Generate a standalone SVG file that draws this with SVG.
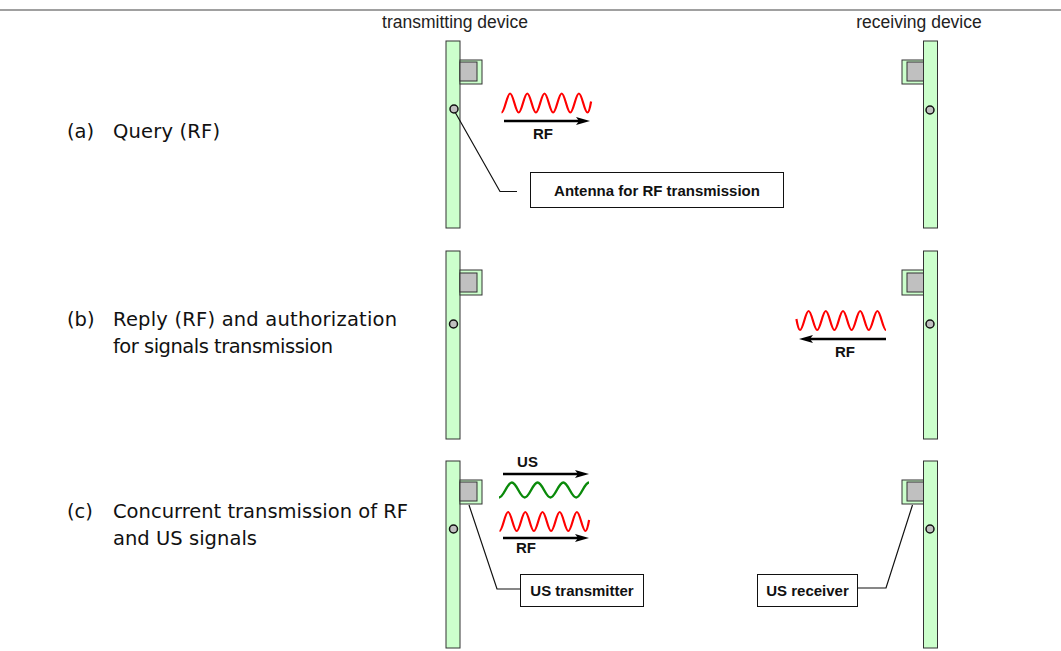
<svg xmlns="http://www.w3.org/2000/svg" xmlns:xlink="http://www.w3.org/1999/xlink" width="1061" height="651" viewBox="0 0 1061 651">
<style>
.bar{fill:#ccffcc;stroke:#333;stroke-width:1}
.comp{fill:#ccffcc;stroke:#333;stroke-width:1}
.chip{fill:#c0c0c0;stroke:#333;stroke-width:1}
.ant{fill:#c0c0c0;stroke:#111;stroke-width:1.5}
.hdr{font-family:"Liberation Sans",Arial,sans-serif;font-size:17.5px;fill:#222}
.step{font-family:"DejaVu Sans","Noto Sans",sans-serif;font-size:19.5px;fill:#111}
.lbl{font-family:"Liberation Sans",Arial,sans-serif;font-size:15px;font-weight:bold;fill:#111}
.box{fill:#fff;stroke:#111;stroke-width:1}
.lead{fill:none;stroke:#111;stroke-width:1.2}
.arrow{stroke:#000;stroke-width:2.6;marker-end:url(#ah)}
.rf{fill:none;stroke:#ff0000;stroke-width:2.2}
.us{fill:none;stroke:#0a8a0a;stroke-width:2.4}
</style>
<defs>
<marker id="ah" markerUnits="userSpaceOnUse" markerWidth="16" markerHeight="10" refX="3" refY="4" orient="auto">
<path d="M0,0 L14,4 L0,8 L3,4 z" fill="#000"/>
</marker>
<path id="rfwave" d="M0,0 c3.13,0 5.47,-19 8.6,-19 s5.47,19 8.6,19 s5.47,-19 8.6,-19 s5.47,19 8.6,19 s5.47,-19 8.6,-19 s5.47,19 8.6,19 s5.47,-19 8.6,-19 s5.47,19 8.6,19 s5.47,-19 8.6,-19 s5.47,19 8.6,19 c1.6,0 2.9,-7 3.6,-11"/>
<path id="uswave" d="M0,0 c4.68,0 8.18,-15 12.86,-15 s8.18,15 12.86,15 s8.18,-15 12.86,-15 s8.18,15 12.86,15 s8.18,-15 12.86,-15 s8.18,15 12.86,15 s8.18,-15 12.86,-15"/>
</defs>
<rect width="1061" height="651" fill="#fff"/>
<line x1="0" y1="10" x2="1061" y2="10" stroke="#808080" stroke-width="1.6"/>
<text class="hdr" x="455" y="28" text-anchor="middle">transmitting device</text>
<text class="hdr" x="919" y="28" text-anchor="middle">receiving device</text>

<g id="step-a">
<text class="step" x="67" y="138">(a)</text>
<text class="step" x="113" y="138" textLength="107" lengthAdjust="spacing">Query (RF)</text>
</g>
<g id="step-b">
<text class="step" x="67" y="326">(b)</text>
<text class="step" x="113" y="326" textLength="284" lengthAdjust="spacing">Reply (RF) and authorization</text>
<text class="step" x="113" y="353" textLength="220" lengthAdjust="spacing">for signals transmission</text>
</g>
<g id="step-c">
<text class="step" x="67" y="518">(c)</text>
<text class="step" x="113" y="518" textLength="295" lengthAdjust="spacing">Concurrent transmission of RF</text>
<text class="step" x="113" y="545" textLength="144" lengthAdjust="spacing">and US signals</text>
</g>

<g id="tx-a">
<rect class="bar" x="446" y="41" width="14" height="187"/>
<rect class="comp" x="460" y="60" width="22" height="24"/>
<rect class="chip" x="460" y="62" width="17" height="19"/>
<circle class="ant" cx="454" cy="109" r="4"/>
</g>
<g id="rx-a">
<rect class="bar" x="923.5" y="41" width="14" height="187"/>
<rect class="comp" x="902" y="60" width="21.5" height="24"/>
<rect class="chip" x="907" y="62" width="16.5" height="19"/>
<circle class="ant" cx="930" cy="110" r="4"/>
</g>
<g id="tx-b">
<rect class="bar" x="446" y="251" width="14" height="188"/>
<rect class="comp" x="460" y="270" width="22" height="25"/>
<rect class="chip" x="460" y="273" width="17" height="19"/>
<circle class="ant" cx="453.5" cy="324" r="4"/>
</g>
<g id="rx-b">
<rect class="bar" x="923.5" y="251" width="14" height="188"/>
<rect class="comp" x="902" y="270" width="21.5" height="25"/>
<rect class="chip" x="907" y="273" width="16.5" height="19"/>
<circle class="ant" cx="930" cy="324" r="4"/>
</g>
<g id="tx-c">
<rect class="bar" x="446" y="461" width="14" height="187"/>
<rect class="comp" x="460" y="480" width="22" height="24"/>
<rect class="chip" x="460" y="482" width="17" height="19"/>
<circle class="ant" cx="453.5" cy="529" r="4"/>
</g>
<g id="rx-c">
<rect class="bar" x="923.5" y="461" width="14" height="187"/>
<rect class="comp" x="902" y="480" width="21.5" height="24"/>
<rect class="chip" x="907" y="482" width="16.5" height="19"/>
<circle class="ant" cx="930" cy="529" r="4"/>
</g>

<g id="label-antenna">
<rect class="box" x="530.5" y="172.5" width="253" height="35"/>
<text class="lbl" x="657" y="195.5" text-anchor="middle">Antenna for RF transmission</text>
</g>
<g id="label-us-transmitter">
<rect class="box" x="520.5" y="574.5" width="123" height="32"/>
<text class="lbl" x="582" y="596" text-anchor="middle">US transmitter</text>
</g>
<g id="label-us-receiver">
<rect class="box" x="757.5" y="574.5" width="100" height="32"/>
<text class="lbl" x="807.5" y="596" text-anchor="middle">US receiver</text>
</g>

<g id="signals">
<use href="#rfwave" xlink:href="#rfwave" class="rf" transform="translate(501.5,112.5)"/>
<line class="arrow" x1="504" y1="121" x2="579" y2="121"/>
<text class="lbl" x="543" y="139" text-anchor="middle">RF</text>

<use href="#rfwave" xlink:href="#rfwave" class="rf" transform="translate(886,330) scale(-1,1)"/>
<line class="arrow" x1="886" y1="339" x2="810" y2="339"/>
<text class="lbl" x="845" y="357" text-anchor="middle">RF</text>

<text class="lbl" x="527.5" y="467" text-anchor="middle">US</text>
<line class="arrow" x1="503" y1="474" x2="578" y2="474"/>
<use href="#uswave" xlink:href="#uswave" class="us" transform="translate(499,497.5)"/>
<use href="#rfwave" xlink:href="#rfwave" class="rf" transform="translate(499.5,531)"/>
<line class="arrow" x1="503" y1="538" x2="578" y2="538"/>
<text class="lbl" x="526" y="553" text-anchor="middle">RF</text>
</g>

<g id="connectors">
<polyline class="lead" points="455,112 500,191.5 517,191.5"/>
<polyline class="lead" points="469,505 497,589 520.5,589"/>
<polyline class="lead" points="912.5,505 886,588 857.5,588"/>
</g>
</svg>
